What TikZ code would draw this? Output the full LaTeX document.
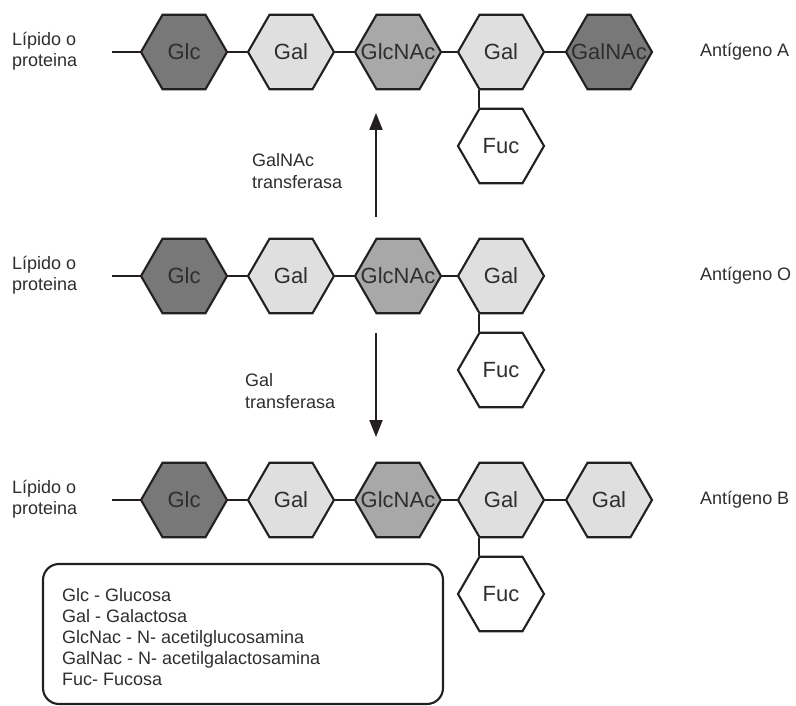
\documentclass[tikz,border=0pt]{standalone}
\usepackage{fontspec}
\setmainfont{Liberation Sans}
\usetikzlibrary{shapes.geometric,arrows.meta}
\definecolor{dk}{HTML}{787878}
\definecolor{md}{HTML}{A8A8A8}
\definecolor{lt}{HTML}{DFDFDF}
\definecolor{ln}{HTML}{231F20}
\definecolor{tx}{HTML}{2E2E2E}
\begin{document}
\begin{tikzpicture}[x=1pt,y=-1pt,
 hexa/.style={regular polygon, regular polygon sides=6, minimum size=86pt, inner sep=0pt, draw=ln, line width=2.1pt},
 hdark/.style={hexa, fill=dk},
 hmid/.style={hexa, fill=md},
 hlight/.style={hexa, fill=lt},
 hwhite/.style={hexa, fill=white},
 hl/.style={text=tx, font=\fontsize{22}{26}\selectfont, inner sep=0pt},
 side/.style={font=\fontsize{18}{21.5}\selectfont, text=tx, align=left, anchor=west, inner sep=0pt},
 link/.style={draw=ln, line width=2.1pt},
 arr/.style={draw=ln, line width=2.1pt, -{Triangle[length=17pt,width=13pt]}}]
\useasboundingbox (0,0) rectangle (796,706);

% ---------- Row A ----------
\node[hdark]  (a1) at (184,52) {};
\node[hlight] (a2) at (291,52) {};
\node[hmid]   (a3) at (398,52) {};
\node[hlight] (a4) at (501,52) {};
\node[hdark]  (a5) at (609,52) {};
\node[hwhite] (fa) at (501,146) {};
\node[hl] (ta1) at (a1) {Glc};
\node[hl] (ta2) at (a2) {Gal};
\node[hl] (ta3) at (a3) {GlcNAc};
\node[hl] (ta4) at (a4) {Gal};
\node[hl] (ta5) at (a5) {GalNAc};
\node[hl] (tfa) at (fa) {Fuc};
\coordinate (la) at (112,52);
\draw[link] (la) -- (a1.west);
\draw[link] (a1.east) -- (a2.west);
\draw[link] (a2.east) -- (a3.west);
\draw[link] (a3.east) -- (a4.west);
\draw[link] (a4.east) -- (a5.west);
\draw[link] (a4.corner 4) -- (fa.corner 2);
\node[side] (lpa) at (12,51) {Lípido o\\proteina};
\node[side] (ana) at (700,52) {Antígeno A};

% ---------- Row O ----------
\node[hdark]  (o1) at (184,276) {};
\node[hlight] (o2) at (291,276) {};
\node[hmid]   (o3) at (398,276) {};
\node[hlight] (o4) at (501,276) {};
\node[hwhite] (fo) at (501,370) {};
\node[hl] (to1) at (o1) {Glc};
\node[hl] (to2) at (o2) {Gal};
\node[hl] (to3) at (o3) {GlcNAc};
\node[hl] (to4) at (o4) {Gal};
\node[hl] (tfo) at (fo) {Fuc};
\coordinate (lo) at (112,276);
\draw[link] (lo) -- (o1.west);
\draw[link] (o1.east) -- (o2.west);
\draw[link] (o2.east) -- (o3.west);
\draw[link] (o3.east) -- (o4.west);
\draw[link] (o4.corner 4) -- (fo.corner 2);
\node[side] (lpo) at (12,275) {Lípido o\\proteina};
\node[side] (ano) at (700,276) {Antígeno O};

% ---------- Row B ----------
\node[hdark]  (b1) at (184,500) {};
\node[hlight] (b2) at (291,500) {};
\node[hmid]   (b3) at (398,500) {};
\node[hlight] (b4) at (501,500) {};
\node[hlight] (b5) at (609,500) {};
\node[hwhite] (fb) at (501,594) {};
\node[hl] (tb1) at (b1) {Glc};
\node[hl] (tb2) at (b2) {Gal};
\node[hl] (tb3) at (b3) {GlcNAc};
\node[hl] (tb4) at (b4) {Gal};
\node[hl] (tb5) at (b5) {Gal};
\node[hl] (tfb) at (fb) {Fuc};
\coordinate (lb) at (112,500);
\draw[link] (lb) -- (b1.west);
\draw[link] (b1.east) -- (b2.west);
\draw[link] (b2.east) -- (b3.west);
\draw[link] (b3.east) -- (b4.west);
\draw[link] (b4.east) -- (b5.west);
\draw[link] (b4.corner 4) -- (fb.corner 2);
\node[side] (lpb) at (12,499) {Lípido o\\proteina};
\node[side] (anb) at (700,500) {Antígeno B};

% ---------- Arrows ----------
\coordinate (u1) at (376,217);
\coordinate (u2) at (376,113);
\draw[arr] (u1) -- (u2);
\node[side] (ga) at (252,171) {GalNAc\\transferasa};
\coordinate (d1) at (376,333);
\coordinate (d2) at (376,437);
\draw[arr] (d1) -- (d2);
\node[side] (gb) at (245,391) {Gal\\transferasa};

% ---------- Legend ----------
\draw[draw=ln, line width=2.1pt, rounded corners=16pt] (43,564) rectangle (443,704);
\node[side, anchor=north west, font=\fontsize{18}{21}\selectfont] (leg) at (62,588)
 {Glc - Glucosa\\Gal - Galactosa\\GlcNac - N- acetilglucosamina\\GalNac - N- acetilgalactosamina\\Fuc- Fucosa};
\end{tikzpicture}
\end{document}
